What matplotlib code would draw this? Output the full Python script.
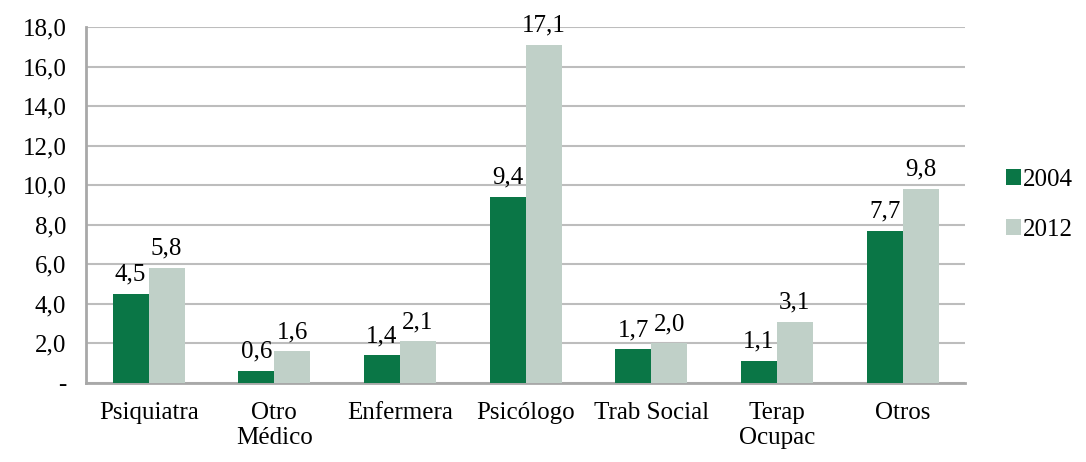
import matplotlib
matplotlib.use("Agg")
import matplotlib.pyplot as plt
import numpy as np

categories = ["Psiquiatra", "Otro\nMédico", "Enfermera", "Psicólogo", "Trab Social", "Terap\nOcupac", "Otros"]
series_names = ["2004", "2012"]
values_2004 = [4.5, 0.6, 1.4, 9.4, 1.7, 1.1, 7.7]
values_2012 = [5.8, 1.6, 2.1, 17.1, 2.0, 3.1, 9.8]
yticks = [0, 2, 4, 6, 8, 10, 12, 14, 16, 18]
ytick_labels = ["-", "2,0", "4,0", "6,0", "8,0", "10,0", "12,0", "14,0", "16,0", "18,0"]

plt.rcParams['font.family'] = ['Liberation Serif', 'DejaVu Serif']
FS = 18

fig = plt.figure(figsize=(10.86, 4.62), dpi=100)
ax = fig.add_axes([0.079, 0.171, 0.81, 0.7706])

x = np.arange(len(categories))
w = 0.286
c1 = "#0A7646"
c2 = "#C0D0C8"
b1 = ax.bar(x - w/2, values_2004, w, color=c1, label=series_names[0], zorder=3)
b2 = ax.bar(x + w/2, values_2012, w, color=c2, label=series_names[1], zorder=3)

def fmt(v):
    return f"{v:.1f}".replace(".", ",")

for bars, vals in ((b1, values_2004), (b2, values_2012)):
    for r, v in zip(bars, vals):
        ax.annotate(fmt(v), (r.get_x() + r.get_width()/2, v), xytext=(0, 6),
                    textcoords="offset points", ha="center", va="bottom", fontsize=FS)

ax.set_xlim(-0.5, len(categories) - 0.5)
ax.set_ylim(0, 18)
ax.set_yticks(yticks)
ax.set_yticklabels(ytick_labels, fontsize=FS)
ax.set_xticks(x)
ax.set_xticklabels(categories, fontsize=FS, linespacing=1.15)
ax.tick_params(axis="both", length=0)
ax.tick_params(axis="x", pad=14)
ax.tick_params(axis="y", pad=14)
ax.grid(axis="y", color="#BDBDBD", linewidth=1.5, zorder=0)
for s in ["top", "right"]:
    ax.spines[s].set_visible(False)
for s in ["left", "bottom"]:
    ax.spines[s].set_color("#A8A8A8")
    ax.spines[s].set_linewidth(2)

leg = ax.legend(loc="center left", bbox_to_anchor=(1.02, 0.5), frameon=False, fontsize=FS,
                handlelength=0.6, handleheight=0.6, handletextpad=0.1, labelspacing=1.1)

fig.savefig("out.png", dpi=100)
